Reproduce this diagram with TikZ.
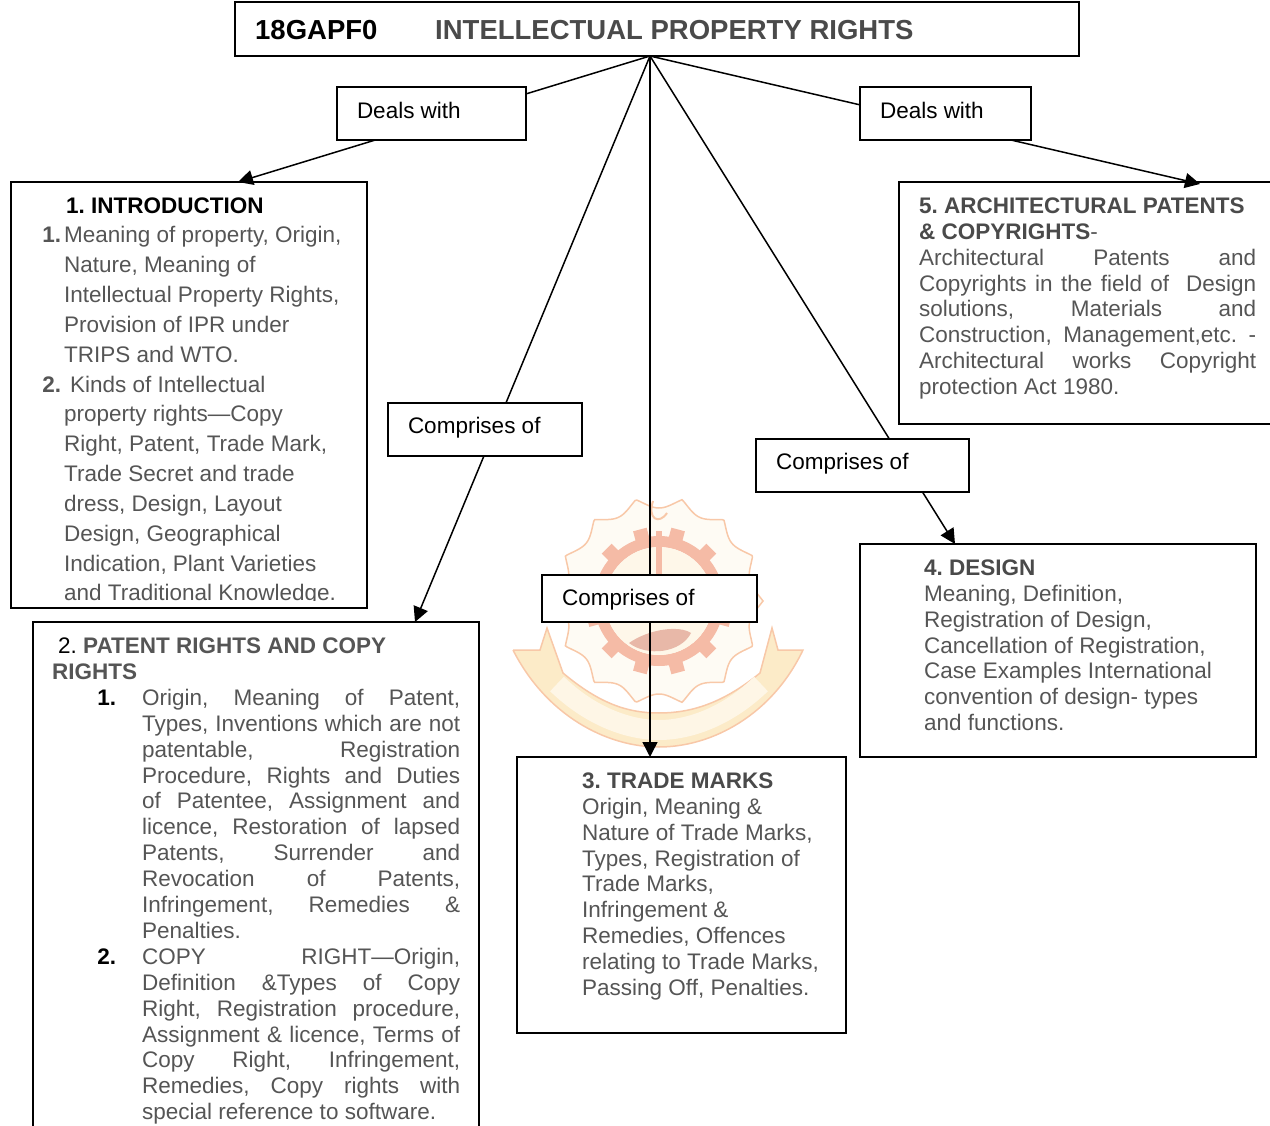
\documentclass[tikz,border=0pt]{standalone}
\usepackage{fontspec}
\setmainfont{Liberation Sans}
\usetikzlibrary{arrows.meta}
\definecolor{bodygray}{HTML}{555555}
\definecolor{headgray}{HTML}{4A4A4A}
\definecolor{logored}{HTML}{F5BBA6}
\definecolor{logoline}{HTML}{F8C8A8}
\definecolor{logopale}{HTML}{FCEBC8}
\definecolor{logograpes}{HTML}{E8B8A8}
\frenchspacing
\newcommand{\jline}[1]{\makebox[\hsize][s]{#1}}
\newcommand{\listno}[2]{\leavevmode\llap{\textbf{#1}\hspace{#2}}}
\tikzset{
	bigbox/.style={draw, line width=1.7pt, anchor=north west, inner sep=0pt, outer sep=0pt},
	labelbox/.style={draw, fill=white, line width=1.5pt, anchor=north west, inner ysep=0pt, inner xsep=20pt, outer sep=0pt, align=flush left, text height=15pt, text depth=7pt, font=\fontsize{22.5}{26}\selectfont},
	bodytext/.style={anchor=north west, inner sep=0pt, align=flush left, text=bodygray, font=\fontsize{22.5}{25.9}\selectfont},
	pointer/.style={line width=1.5pt, -{Triangle[length=15pt,width=15pt]}},
}
\begin{document}
\begin{tikzpicture}[x=1pt, y=-1pt]
	\useasboundingbox (0,0) rectangle (1270,1126);
	% college crest behind the diagram
	\begin{scope}[shift={(659,601)}]
		\draw[logoline, line width=1.5pt, fill=logopale!20] plot[domain=0:360, samples=360] ({\x}:{104-11*abs(sin(7*\x))}) -- cycle;
		\foreach \tooth in {0,30,...,330}
			\fill[logored, rotate=\tooth+15] (-7,-74) rectangle (7,-58);
		\fill[logored, even odd rule] (0,0) circle (65) (0,0) circle (54);
		\fill[logopale!40] (0,0) circle (54);
		\fill[logored] (-3,-70) rectangle (3,-24);
		\fill[logored] (-9,-26) rectangle (9,-16);
		\draw[logoline, line width=2pt] (-6,-100) .. controls (-12,-82) and (0,-76) .. (8,-88);
		\fill[logograpes] (-30,42) .. controls (-10,28) and (20,24) .. (32,32) .. controls (22,52) and (-12,56) .. (-30,42);
	\end{scope}
	\fill[logopale, draw=logoline, line width=1.5pt] (513,650) -- (540,650) -- (547,628) -- (563,673) .. controls (600,704) and (628,713) .. (659,713) .. controls (690,713) and (722,704) .. (760,673) -- (772,628) -- (778,650) -- (803,650) .. controls (772,715) and (712,747) .. (659,747) .. controls (606,747) and (546,715) .. (513,650);
	\draw[logopale!45, line width=20pt] (557,684) .. controls (590,716) and (628,730) .. (659,730) .. controls (690,730) and (728,716) .. (761,684);
	% connectors from the title to the topics
	\coordinate (apex) at (650,56);
	\coordinate (introtip) at (238,182);
	\coordinate (patenttip) at (415,622);
	\coordinate (trademarktip) at (650,757);
	\coordinate (designtip) at (955,544);
	\coordinate (archtip) at (1200,184);
	\foreach \tip in {introtip,patenttip,trademarktip,designtip,archtip}
		\draw[pointer] (apex) -- (\tip);
	% title and labels
	\node[bigbox, minimum width=844, minimum height=54] (title) at (235,2) {};
	\node[anchor=base west, inner sep=0pt, font=\fontsize{27.5}{30}\selectfont\bfseries] (code) at (255,40) {18GAPF0};
	\node[anchor=base west, inner sep=0pt, text=headgray, font=\fontsize{27.5}{30}\selectfont\bfseries] (titletext) at (435,40) {INTELLECTUAL PROPERTY RIGHTS};
	\node[labelbox, text width=149, minimum height=53, text depth=5pt] (deals1) at (337,87) {Deals with};
	\node[labelbox, text width=131, minimum height=53, text depth=5pt] (deals2) at (860,87) {Deals with};
	\node[labelbox, text width=154, minimum height=53] (comprises1) at (388,403) {Comprises of};
	\node[labelbox, text width=175, minimum height=47, text depth=2pt] (comprises2) at (542,575) {Comprises of};
	\node[labelbox, text width=173, minimum height=53] (comprises3) at (756,439) {Comprises of};
	% topic boxes
	\node[bigbox, minimum width=356, minimum height=426] (intro) at (11,182) {};
	\node[bigbox, minimum width=446, minimum height=520] (patent) at (33,622) {};
	\node[bigbox, minimum width=329, minimum height=276] (trademarks) at (517,757) {};
	\node[bigbox, minimum width=396, minimum height=213] (design) at (860,544) {};
	\node[bigbox, minimum width=400, minimum height=242] (arch) at (899,182) {};
	\begin{scope}
		\clip (20,190) rectangle (360,600);
		\node[bodytext, text width=290, font=\fontsize{22.5}{29.83}\selectfont] (introtext) at (64,192) {\strut\hspace*{2pt}\textcolor{black}{\textbf{1. INTRODUCTION}}\\
		\listno{1.}{3pt}Meaning of property, Origin,\\
		Nature, Meaning of\\
		Intellectual Property Rights,\\
		Provision of IPR under\\
		TRIPS and WTO.\\
		\listno{2.}{3pt}\hspace*{6pt}Kinds of Intellectual\\
		property rights—Copy\\
		Right, Patent, Trade Mark,\\
		Trade Secret and trade\\
		dress, Design, Layout\\
		Design, Geographical\\
		Indication, Plant Varieties\\
		and Traditional Knowledge.};
	\end{scope}
	\node[bodytext, text width=408] (patenthead) at (52,635) {\strut\hspace*{6pt}\textcolor{black}{2.} \textbf{PATENT RIGHTS AND COPY}\\
	\textbf{RIGHTS}};
	\node[bodytext, text width=318] (patenttext) at (142,687) {\strut\textcolor{black}{\listno{1.}{26pt}}\jline{Origin, Meaning of Patent,}\\
	\jline{Types, Inventions which are not}\\
	\jline{patentable, Registration}\\
	\jline{Procedure, Rights and Duties}\\
	\jline{of Patentee, Assignment and}\\
	\jline{licence, Restoration of lapsed}\\
	\jline{Patents, Surrender and}\\
	\jline{Revocation of Patents,}\\
	\jline{Infringement, Remedies \&}\\
	Penalties.\\
	\textcolor{black}{\listno{2.}{26pt}}\jline{COPY RIGHT—Origin,}\\
	\jline{Definition \&Types of Copy}\\
	\jline{Right, Registration procedure,}\\
	\jline{Assignment \& licence, Terms of}\\
	\jline{Copy Right, Infringement,}\\
	\jline{Remedies, Copy rights with}\\
	special reference to software.};
	\node[bodytext, text width=250] (trademarktext) at (582,770) {\strut\textbf{\textcolor{headgray}{3. TRADE MARKS}}\\
	Origin, Meaning \&\\
	Nature of Trade Marks,\\
	Types, Registration of\\
	Trade Marks,\\
	Infringement \&\\
	Remedies, Offences\\
	relating to Trade Marks,\\
	Passing Off, Penalties.};
	\node[bodytext, text width=310] (designtext) at (924,557) {\strut\textbf{\textcolor{headgray}{4. DESIGN}}\\
	Meaning, Definition,\\
	Registration of Design,\\
	Cancellation of Registration,\\
	Case Examples International\\
	convention of design- types\\
	and functions.};
	\node[bodytext, text width=337] (archtext) at (919,195) {\strut\textbf{\textcolor{headgray}{5. ARCHITECTURAL PATENTS}}\\
	\textbf{\textcolor{headgray}{\& COPYRIGHTS}}-\\
	\jline{Architectural Patents and}\\
	\jline{Copyrights in the field of~~Design}\\
	\jline{solutions, Materials and}\\
	\jline{Construction, Management,etc. -}\\
	\jline{Architectural works Copyright}\\
	protection Act 1980.};
\end{tikzpicture}
\end{document}
